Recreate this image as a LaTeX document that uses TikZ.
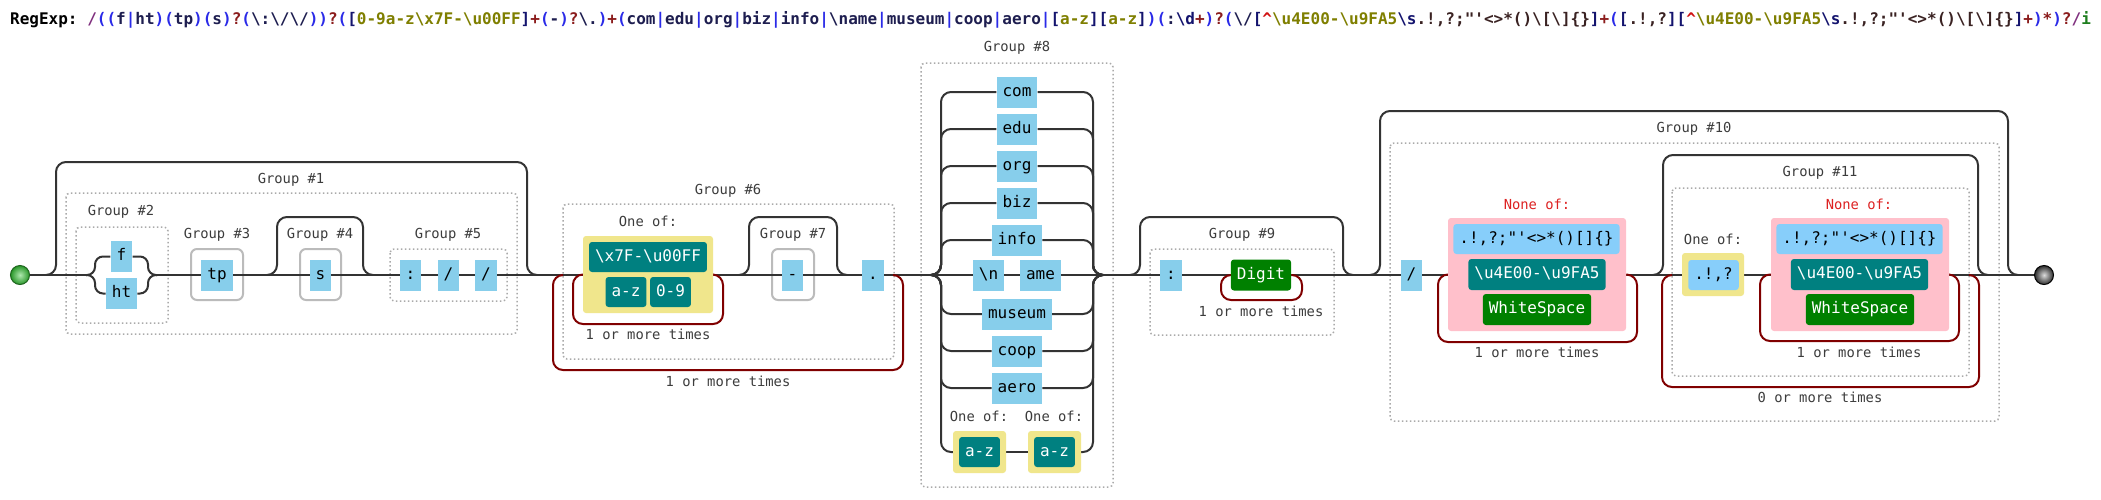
\documentclass[tikz,border=0pt]{standalone}
\usepackage{fontspec}
\setmonofont{DejaVu Sans Mono}
\usetikzlibrary{backgrounds}
\definecolor{railc}{HTML}{333333}
\definecolor{loopc}{HTML}{800000}
\definecolor{litc}{HTML}{87CEEB}
\definecolor{lblue}{HTML}{87CEFA}
\definecolor{tealc}{HTML}{008080}
\definecolor{greenc}{HTML}{008000}
\definecolor{khakic}{HTML}{F0E68C}
\definecolor{pinkc}{HTML}{FFC0CB}
\definecolor{greyb}{HTML}{BBBBBB}
\definecolor{dotc}{HTML}{AAAAAA}
\definecolor{labc}{HTML}{3C3C3C}
\definecolor{nonec}{HTML}{DD2222}
\definecolor{sgin}{RGB}{175,232,175}
\definecolor{sgout}{RGB}{40,150,40}
\definecolor{sgdraw}{RGB}{30,100,30}
\definecolor{egin}{RGB}{220,220,220}
\definecolor{egout}{RGB}{45,45,45}
\definecolor{tslash}{HTML}{80307F}
\definecolor{tparen}{HTML}{2A2AE8}
\definecolor{tlit}{HTML}{1E1E50}
\definecolor{tquant}{HTML}{8B1C1C}
\definecolor{tbrack}{HTML}{14146E}
\definecolor{trange}{HTML}{7F7F00}
\definecolor{tneg}{HTML}{D01010}
\definecolor{tesc}{HTML}{14146E}
\definecolor{tchr}{HTML}{3A2222}
\definecolor{tflag}{HTML}{1E7E1E}
\newcommand\rxbox{\ttfamily\fontsize{16pt}{16pt}\selectfont}
\newcommand\rxlbl{\ttfamily\fontsize{13.8pt}{14pt}\selectfont}
\newcommand\rxttl{\ttfamily\bfseries\fontsize{16pt}{16pt}\selectfont}
\newcommand\rxbs{\textbackslash}
\newcommand\rxS[1]{\textcolor{tslash}{#1}}
\newcommand\rxP[1]{\textcolor{tparen}{#1}}
\newcommand\rxL[1]{\textcolor{tlit}{#1}}
\newcommand\rxQ[1]{\textcolor{tquant}{#1}}
\newcommand\rxB[1]{\textcolor{tbrack}{#1}}
\newcommand\rxO[1]{\textcolor{trange}{#1}}
\newcommand\rxR[1]{\textcolor{tneg}{#1}}
\newcommand\rxE[1]{\textcolor{tesc}{#1}}
\newcommand\rxK[1]{\textcolor{tchr}{#1}}
\newcommand\rxF[1]{\textcolor{tflag}{#1}}
\tikzset{
  railline/.style={draw=railc, line width=2pt},
  skipline/.style={draw=railc, line width=2pt, rounded corners=10pt},
  brline/.style={draw=railc, line width=2pt, rounded corners=8pt},
  loopline/.style={draw=loopc, line width=2pt, rounded corners=10pt},
  lit/.style={fill=litc, font=\rxbox, inner xsep=6pt, inner ysep=0pt, minimum height=31pt, text height=12pt, text depth=4pt, text=black},
  rlit/.style={lit, fill=lblue, rounded corners=3pt},
  esc/.style={lit, fill=tealc, text=white, rounded corners=3pt},
  cls/.style={lit, fill=greenc, text=white, rounded corners=3pt},
  oneof/.style={fill=khakic, rounded corners=3pt, inner sep=0pt},
  noneof/.style={fill=pinkc, rounded corners=3pt, inner sep=0pt},
  grpbox/.style={draw=dotc, dash pattern=on 1.5pt off 2.5pt, line width=1.5pt, rounded corners=4pt},
  capbox/.style={draw=greyb, line width=2pt, rounded corners=6pt},
  lbl/.style={font=\rxlbl, text=labc, inner sep=0pt, text height=10pt, text depth=3pt},
  nlbl/.style={lbl, text=nonec},
  startc/.style={circle, minimum size=19pt, inner sep=0pt, draw=sgdraw, line width=1pt, inner color=sgin, outer color=sgout},
  endc/.style={circle, minimum size=19pt, inner sep=0pt, draw=black, line width=1pt, inner color=egin, outer color=egout},
}
\begin{document}
\begin{tikzpicture}[x=1pt,y=-1pt]
\useasboundingbox (0,0) rectangle (2101,499);
% coordinates on the main line
\coordinate (g2s) at (86,275);
\coordinate (g2j) at (157,275);
\coordinate (g1a) at (46,275);
\coordinate (g1b) at (537,275);
\coordinate (g4a) at (267,275);
\coordinate (g4b) at (373,275);
\coordinate (g6a) at (563,275);
\coordinate (g6b) at (893,275);
\coordinate (g7a) at (739,275);
\coordinate (g7b) at (847,275);
\coordinate (g8s) at (931,275);
\coordinate (g8j) at (1103,275);
\coordinate (g9a) at (1130,275);
\coordinate (g9b) at (1353,275);
\coordinate (g10a) at (1370,275);
\coordinate (g10b) at (2018,275);
\coordinate (g11a) at (1653,275);
\coordinate (g11b) at (1988,275);
\coordinate (g11l) at (1672,275);
\coordinate (g11r) at (1969,275);

% title
\node[anchor=base west, inner sep=0pt, font=\rxttl] (title) at (10,24.5) {\textcolor{black}{RegExp:}\ \rxS{/}\rxP{((}\rxL{f}\rxP{|}\rxL{ht}\rxP{)(}\rxL{tp}\rxP{)(}\rxL{s}\rxP{)}\rxQ{?}\rxP{(}\rxL{\rxbs:\rxbs/\rxbs/}\rxP{))}\rxQ{?}\rxP{(}\rxB{[}\rxO{0-9a-z\rxbs x7F-\rxbs u00FF}\rxB{]}\rxQ{+}\rxP{(}\rxL{-}\rxP{)}\rxQ{?}\rxL{\rxbs.}\rxP{)}\rxQ{+}\rxP{(}\rxL{com}\rxP{|}\rxL{edu}\rxP{|}\rxL{org}\rxP{|}\rxL{biz}\rxP{|}\rxL{info}\rxP{|}\rxL{\rxbs name}\rxP{|}\rxL{museum}\rxP{|}\rxL{coop}\rxP{|}\rxL{aero}\rxP{|}\rxB{[}\rxO{a-z}\rxB{][}\rxO{a-z}\rxB{]}\rxP{)}\rxP{(}\rxL{:}\rxE{\rxbs d}\rxQ{+}\rxP{)}\rxQ{?}\rxP{(}\rxL{\rxbs/}\rxB{[}\rxR{\textasciicircum}\rxO{\rxbs u4E00-\rxbs u9FA5}\rxE{\rxbs s}\rxK{.!,?;"'<>*()\rxbs[\rxbs]\{\}}\rxB{]}\rxQ{+}\rxP{(}\rxB{[}\rxK{.!,?}\rxB{]}\rxB{[}\rxR{\textasciicircum}\rxO{\rxbs u4E00-\rxbs u9FA5}\rxE{\rxbs s}\rxK{.!,?;"'<>*()\rxbs[\rxbs]\{\}}\rxB{]}\rxQ{+}\rxP{)}\rxQ{*}\rxP{)}\rxQ{?}\rxS{/}\rxF{i}};

% start / end
\node[startc] (start) at (20,275) {};
\node[endc] (finish) at (2044,275) {};

% group 1..5
\node[lit] (f) at (121.5,256.5) {f};
\node[lit] (ht) at (121.5,293.5) {ht};
\node[lit] (tp) at (217,275) {tp};
\node[lit] (s) at (320.5,275) {s};
\node[lit] (c1) at (410.5,275) {:};
\node[lit] (sl1) at (448.5,275) {/};
\node[lit] (sl2) at (486,275) {/};

% group 6, 7
\node[oneof, minimum width=130pt, minimum height=77pt] (y6) at (648,274.5) {};
\node[esc, minimum height=30pt] (x7f) at (648,257) {\rxbs x7F-\rxbs u00FF};
\node[esc, minimum height=30pt] (az6) at (626,292) {a-z};
\node[esc, minimum height=30pt] (d6) at (670.5,292) {0-9};
\node[lit] (dash) at (792.5,275) {-};
\node[lit] (dot) at (873,275) {.};

% group 8
\node[lit] (com) at (1017,92) {com};
\node[lit] (edu) at (1017,129) {edu};
\node[lit] (org) at (1017,166) {org};
\node[lit] (biz) at (1017,203) {biz};
\node[lit] (info) at (1017,240) {info};
\node[lit] (nl) at (988.5,275) {\rxbs n};
\node[lit] (ame) at (1040.5,275) {ame};
\node[lit] (museum) at (1017,314) {museum};
\node[lit] (coop) at (1017,351) {coop};
\node[lit] (aero) at (1017,388) {aero};
\node[oneof, minimum width=53pt, minimum height=42pt] (y8a) at (979.5,452) {};
\node[esc, minimum height=30pt] (az8a) at (979.5,452) {a-z};
\node[oneof, minimum width=53pt, minimum height=42pt] (y8b) at (1054.5,452) {};
\node[esc, minimum height=30pt] (az8b) at (1054.5,452) {a-z};

% group 9
\node[lit] (c2) at (1171,275) {:};
\node[cls] (digit) at (1261,275) {Digit};

% group 10
\node[lit] (sl3) at (1411.5,275) {/};
\node[noneof, minimum width=178pt, minimum height=113pt] (p10) at (1537,274.5) {};
\node[rlit, minimum height=30pt] (nb10) at (1536.5,239) {.!,?;"'<>*()[]\{\}};
\node[esc] (u10) at (1537,274.5) {\rxbs u4E00-\rxbs u9FA5};
\node[cls] (ws10) at (1537,309.5) {WhiteSpace};

% group 11
\node[oneof, minimum width=62pt, minimum height=43pt] (y11) at (1713,274.5) {};
\node[rlit, minimum height=30pt] (pu11) at (1713.5,275) {.!,?};
\node[noneof, minimum width=178pt, minimum height=113pt] (p11) at (1860,274.5) {};
\node[rlit, minimum height=30pt] (nb11) at (1859.5,239) {.!,?;"'<>*()[]\{\}};
\node[esc] (u11) at (1859.5,274.5) {\rxbs u4E00-\rxbs u9FA5};
\node[cls] (ws11) at (1860,309.5) {WhiteSpace};

% labels
\node[lbl] (l1) at (291,180) {Group \#1};
\node[lbl] (l2) at (121,212) {Group \#2};
\node[lbl] (l3) at (217,235) {Group \#3};
\node[lbl] (l4) at (320,235) {Group \#4};
\node[lbl] (l5) at (448,235) {Group \#5};
\node[lbl] (l6) at (728,191) {Group \#6};
\node[lbl] (o6) at (648,223) {One of:};
\node[lbl] (r6i) at (648,336) {1 or more times};
\node[lbl] (r6o) at (728,383) {1 or more times};
\node[lbl] (l7) at (793,235) {Group \#7};
\node[lbl] (l8) at (1017,48) {Group \#8};
\node[lbl] (o8a) at (979,418) {One of:};
\node[lbl] (o8b) at (1054,418) {One of:};
\node[lbl] (l9) at (1242,235) {Group \#9};
\node[lbl] (r9) at (1261,313) {1 or more times};
\node[lbl] (l10) at (1694,129) {Group \#10};
\node[nlbl] (n10) at (1537,206) {None of:};
\node[lbl] (r10) at (1537,354) {1 or more times};
\node[lbl] (l11) at (1820,173) {Group \#11};
\node[lbl] (o11) at (1713,241) {One of:};
\node[nlbl] (n11) at (1859,206) {None of:};
\node[lbl] (r11i) at (1859,354) {1 or more times};
\node[lbl] (r11o) at (1820,399) {0 or more times};

\begin{pgfonlayer}{background}
\fill[white] (0,0) rectangle (2101,499);
% group frames
\draw[grpbox] (66,193) rectangle (517,334);
\draw[grpbox] (76,227) rectangle (168,323);
\draw[grpbox] (390,249) rectangle (507,301);
\draw[grpbox] (563,204) rectangle (894,359);
\draw[grpbox] (921,63) rectangle (1113,487);
\draw[grpbox] (1150,249) rectangle (1334,335);
\draw[grpbox] (1390,143) rectangle (1999,421);
\draw[grpbox] (1672,188) rectangle (1969,376);
\draw[capbox] (191,249) rectangle (243,300);
\draw[capbox] (300,249) rectangle (341,300);
\draw[capbox] (772,249) rectangle (814,300);
% main line
\draw[railline] (start) -- (g2s);
\draw[railline] (g2j) -- (finish);
% group 2 alternation
\draw[brline] (g2s) -| (95,256.5) -- (f);
\draw[brline] (g2s) -| (95,293.5) -- (ht);
\draw[brline] (f) -| (148,275) -- (g2j);
\draw[brline] (ht) -| (148,275) -- (g2j);
% optional skips
\draw[skipline] (g1a) -| (56,162) -| (527,275) -- (g1b);
\draw[skipline] (g4a) -| (277,217) -| (363,275) -- (g4b);
\draw[skipline] (g7a) -| (749,217) -| (837,275) -- (g7b);
\draw[skipline] (g9a) -| (1140,217) -| (1343,275) -- (g9b);
\draw[skipline] (g10a) -| (1380,111) -| (2008,275) -- (g10b);
\draw[skipline] (g11a) -| (1663,155) -| (1978,275) -- (g11b);
% repeat loops
\draw[loopline] (y6.west) -| (573,324) -| (723,275) -- (y6.east);
\draw[loopline] (g6a) -| (553,370) -| (903,275) -- (g6b);
\draw[loopline] (digit.west) -| (1221,300) -| (1302,275) -- (digit.east);
\draw[loopline] (p10.west) -| (1438,342) -| (1637,275) -- (p10.east);
\draw[loopline] (g11l) -| (1662,387) -| (1979,275) -- (g11r);
\draw[loopline] (p11.west) -| (1760,341) -| (1959,275) -- (p11.east);
% group 8 alternation
\foreach \n/\yy in {com/92,edu/129,org/166,biz/203,info/240,museum/314,coop/351,aero/388}{
  \draw[skipline] (g8s) -| (941,\yy) -- (\n);
  \draw[skipline] (\n) -| (1093,275) -- (g8j);
}
\draw[skipline] (g8s) -| (941,452) -- (y8a);
\draw[railline] (y8a) -- (y8b);
\draw[skipline] (y8b) -| (1093,275) -- (g8j);
\end{pgfonlayer}
\end{tikzpicture}
\end{document}
